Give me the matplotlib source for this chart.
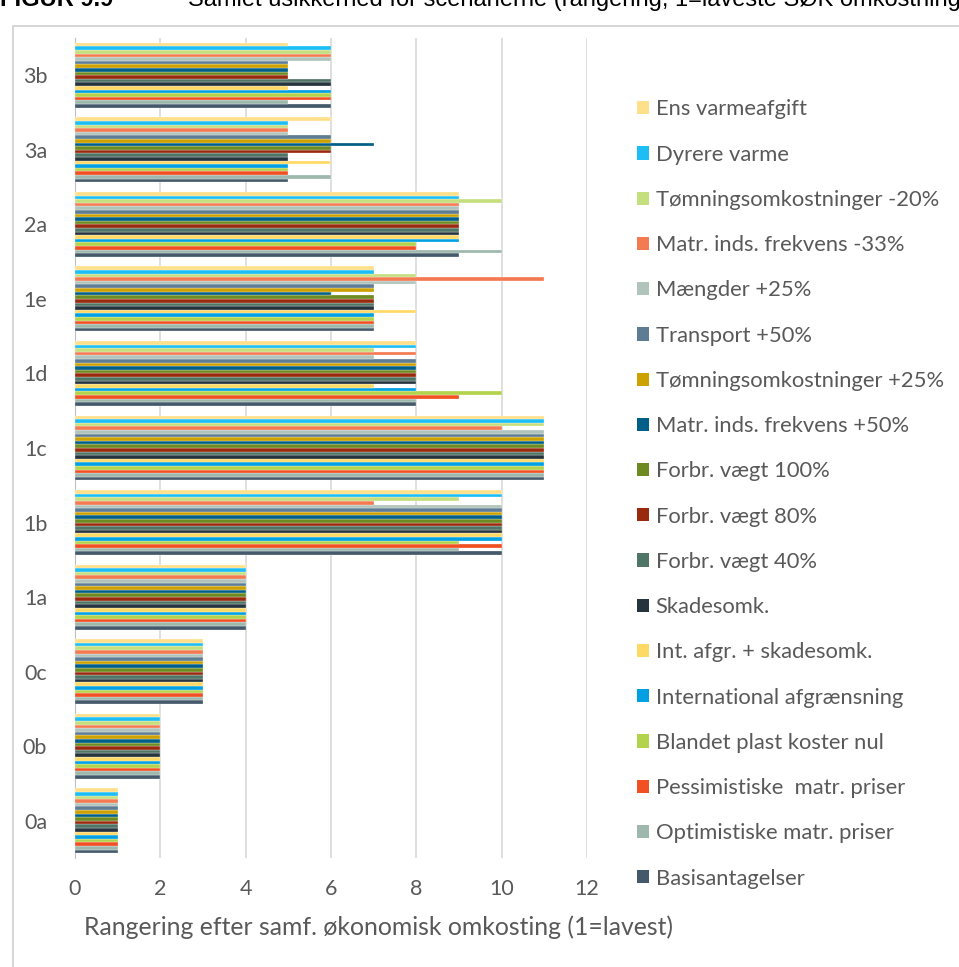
import matplotlib
matplotlib.use("Agg")
import matplotlib.pyplot as plt
from matplotlib.patches import Rectangle, Patch
import numpy as np

plt.rcParams['font.family'] = ['Lato', 'DejaVu Sans']

scenarios = ["0a", "0b", "0c", "1a", "1b", "1c", "1d", "1e", "2a", "3a", "3b"]

# rank per scenario for each sensitivity (1 = lowest cost)
basis = [1, 2, 3, 4, 10, 11, 8, 7, 9, 5, 6]
optimistiske = [1, 2, 3, 4, 9, 11, 8, 7, 10, 6, 5]
pessimistiske = [1, 2, 3, 4, 10, 11, 9, 7, 8, 5, 6]
blandet_plast = [1, 2, 3, 4, 9, 11, 10, 7, 8, 5, 6]
international = [1, 2, 3, 4, 10, 11, 8, 7, 9, 5, 6]
int_skade = [1, 2, 3, 4, 10, 11, 7, 8, 9, 6, 5]
skadesomk = [1, 2, 3, 4, 10, 11, 8, 7, 9, 5, 6]
forbr_40 = [1, 2, 3, 4, 10, 11, 8, 7, 9, 5, 6]
forbr_80 = [1, 2, 3, 4, 10, 11, 8, 7, 9, 6, 5]
forbr_100 = [1, 2, 3, 4, 10, 11, 8, 7, 9, 6, 5]
matr_plus50 = [1, 2, 3, 4, 10, 11, 8, 6, 9, 7, 5]
toemning_plus25 = [1, 2, 3, 4, 10, 11, 8, 7, 9, 6, 5]
transport_plus50 = [1, 2, 3, 4, 10, 11, 8, 7, 9, 6, 5]
maengder_plus25 = [1, 2, 3, 4, 10, 11, 7, 8, 9, 5, 6]
matr_minus33 = [1, 2, 3, 4, 7, 10, 8, 11, 9, 5, 6]
toemning_minus20 = [1, 2, 3, 4, 9, 11, 7, 8, 10, 5, 6]
dyrere_varme = [1, 2, 3, 4, 10, 11, 8, 7, 9, 5, 6]
ens_varmeafgift = [1, 2, 3, 4, 10, 11, 8, 7, 9, 6, 5]

labels = ["Basisantagelser", "Optimistiske matr. priser", "Pessimistiske  matr. priser",
          "Blandet plast koster nul", "International afgrænsning", "Int. afgr. + skadesomk.",
          "Skadesomk.", "Forbr. vægt 40%", "Forbr. vægt 80%", "Forbr. vægt 100%",
          "Matr. inds. frekvens +50%", "Tømningsomkostninger +25%", "Transport +50%",
          "Mængder +25%", "Matr. inds. frekvens -33%", "Tømningsomkostninger -20%",
          "Dyrere varme", "Ens varmeafgift"]
series = [basis, optimistiske, pessimistiske, blandet_plast, international, int_skade,
          skadesomk, forbr_40, forbr_80, forbr_100, matr_plus50, toemning_plus25,
          transport_plus50, maengder_plus25, matr_minus33, toemning_minus20,
          dyrere_varme, ens_varmeafgift]
colors = ["#44596a", "#9eb8ae", "#f25022", "#b4d34c", "#00a0e3", "#ffd966",
          "#26343e", "#4f7566", "#9a2a0e", "#6e8b22", "#005f88", "#cda200",
          "#5e7d94", "#b0c4bc", "#f47a52", "#c5df7f", "#1cbef5", "#ffe08a"]

fig = plt.figure(figsize=(9.59, 9.67), dpi=100)
ax = fig.add_axes([75 / 959, 1 - 858 / 967, 512 / 959, 820 / 967])

y = np.arange(len(scenarios))
n = len(series)
h = 0.87 / n
for i, vals in enumerate(series):
    ax.barh(y + (i - (n - 1) / 2) * h, vals, height=h, color=colors[i],
            edgecolor="white", linewidth=0.2, zorder=3)

ax.set_xlim(0, 12)
ax.set_ylim(-0.5, len(scenarios) - 0.5)
ax.set_xticks(range(0, 13, 2))
ax.set_yticks(y)
ax.set_yticklabels(scenarios)
ax.grid(axis="x", color="#d9d9d9", linewidth=1.2, zorder=0)
for s in ["top", "right", "bottom"]:
    ax.spines[s].set_visible(False)
ax.spines["left"].set_color("#bfbfbf")
ax.tick_params(axis="both", length=0, labelsize=15.5, colors="#595959")
ax.tick_params(axis="x", pad=15)
ax.tick_params(axis="y", pad=20)

fig.text(379 / 959, 1 - 927 / 967, "Rangering efter samf. økonomisk omkosting (1=lavest)",
         ha="center", va="center", fontsize=17.8, color="#595959")

handles = [Patch(facecolor=colors[i], edgecolor="none") for i in range(n - 1, -1, -1)]
fig.legend(handles, [labels[i] for i in range(n - 1, -1, -1)], loc="center left",
           bbox_to_anchor=(637 / 959, 1 - 494 / 967), frameon=False, fontsize=15.8,
           labelcolor="#595959", handlelength=0.55, handleheight=0.55,
           handletextpad=0.3, labelspacing=1.15, borderpad=0, borderaxespad=0)

# outer frame and clipped caption
fig.patches.append(Rectangle((13 / 959, -0.05), 1.0, 1.05 - 26 / 967,
                             transform=fig.transFigure, fill=False,
                             edgecolor="#d0d0d0", linewidth=1.2))
fig.text(0.0, 1 - 6 / 967, "FIGUR 9.9", fontsize=17, fontweight="bold",
         family="Liberation Sans", va="baseline", ha="left")
fig.text(188 / 959, 1 - 6 / 967,
         "Samlet usikkerhed for scenarierne (rangering, 1=laveste SØK omkostning)",
         fontsize=17, family="Liberation Sans", va="baseline", ha="left")

fig.savefig("out.png", dpi=100)
